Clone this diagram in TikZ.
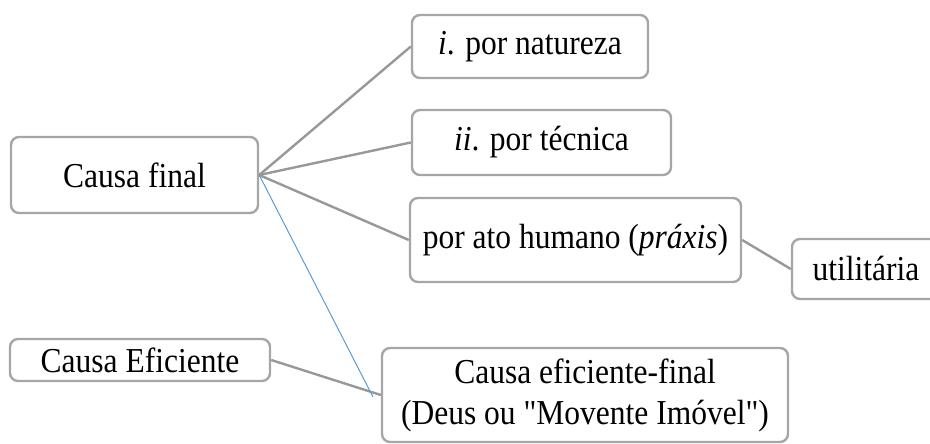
\documentclass[tikz,border=0pt]{standalone}
\usepackage{fontspec}
\setmainfont{Liberation Serif}[Ligatures=TeXOff,FakeStretch=0.9]
\definecolor{boxgray}{HTML}{A6A6A6}
\definecolor{linegray}{HTML}{989898}
\definecolor{lineblue}{HTML}{5B9BD5}
\begin{document}
\begin{tikzpicture}[x=1pt,y=-1pt,
  box/.style={draw=boxgray,line width=2.4pt,rounded corners=8pt,fill=white,
    inner sep=0pt,align=center,font=\fontsize{35}{41}\selectfont},
  conn/.style={draw=linegray,line width=2.4pt},
  bconn/.style={draw=lineblue,line width=1pt}]
\useasboundingbox (0,0) rectangle (930,444);
\node[box,minimum width=247pt,minimum height=76pt] (cf) at (134.5,175) {Causa final};
\node[box,minimum width=236pt,minimum height=63pt] (nat) at (530,46.5) {\textit{i}. por natureza};
\node[box,minimum width=259pt,minimum height=65pt] (tec) at (541.5,142.5) {\textit{ii}. por técnica};
\node[box,minimum width=331pt,minimum height=84pt] (ato) at (575.5,240) {por ato humano (\textit{práxis})};
\node[box,minimum width=148pt,minimum height=60pt] (uti) at (866,269) {utilitária};
\node[box,minimum width=260pt,minimum height=42pt] (ce) at (140,360) {Causa Eficiente};
\node[box,minimum width=406pt,minimum height=94pt] (cef) at (585,395) {Causa eficiente-final\\(Deus ou "Movente Imóvel")};
\coordinate (bend) at (373,397);
\draw[conn] (cf.east) -- (nat.west);
\draw[conn] (cf.east) -- (tec.west);
\draw[conn] (cf.east) -- (ato.west);
\draw[conn] (ato.east) -- (uti.west);
\draw[conn] (ce.east) -- (cef.west);
\draw[bconn] (cf.east) -- (bend);
\end{tikzpicture}
\end{document}
